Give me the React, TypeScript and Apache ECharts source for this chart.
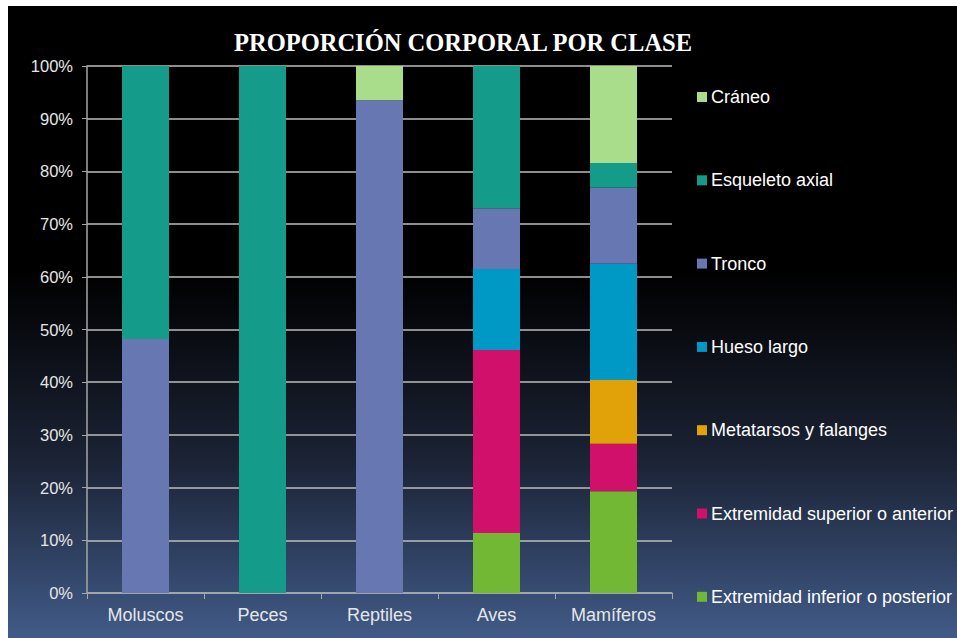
import React, { useEffect, useRef } from "react";
import * as echarts from "echarts";

const categories = ["Moluscos", "Peces", "Reptiles", "Aves", "Mamíferos"];
const extremidadInferior = [0, 0, 0, 11.4, 19.3];
const extremidadSuperior = [0, 0, 0, 34.7, 9.0];
const metatarsos = [0, 0, 0, 0, 12.1];
const huesoLargo = [0, 0, 0, 15.4, 22.1];
const tronco = [48.2, 0, 93.5, 11.5, 14.4];
const esqueletoAxial = [51.8, 100, 0, 27.0, 4.7];
const craneo = [0, 0, 6.5, 0, 18.4];

const seriesDefs = [
  { name: "Extremidad inferior o posterior", data: extremidadInferior, color: "#72b835" },
  { name: "Extremidad superior o anterior", data: extremidadSuperior, color: "#d1106b" },
  { name: "Metatarsos y falanges", data: metatarsos, color: "#e0a208" },
  { name: "Hueso largo", data: huesoLargo, color: "#0099c6" },
  { name: "Tronco", data: tronco, color: "#6677b1" },
  { name: "Esqueleto axial", data: esqueletoAxial, color: "#159b89" },
  { name: "Cráneo", data: craneo, color: "#a9dc8b" },
];

export default function App() {
  const ref = useRef<HTMLDivElement>(null);
  useEffect(() => {
    if (!ref.current) return;
    const chart = echarts.init(ref.current, null, { renderer: "svg" });
    chart.setOption({
      animation: false,
      backgroundColor: {
        type: "linear",
        x: 0,
        y: 0,
        x2: 0,
        y2: 1,
        colorStops: [
          { offset: 0, color: "#000000" },
          { offset: 0.42, color: "#000000" },
          { offset: 0.72, color: "#1b2335" },
          { offset: 1, color: "#415b88" },
        ],
      },
      title: {
        text: "PROPORCIÓN CORPORAL POR CLASE",
        left: 221,
        top: 19,
        textStyle: {
          color: "#ffffff",
          fontFamily: "Liberation Serif",
          fontWeight: "bold",
          fontSize: 24.5,
        },
      },
      legend: {
        orient: "vertical",
        left: 689,
        top: 81,
        padding: 0,
        itemWidth: 10,
        itemHeight: 10,
        itemGap: 63.3,
        icon: "rect",
        data: [...seriesDefs].reverse().map((s) => s.name),
        textStyle: {
          color: "#ffffff",
          fontFamily: "Liberation Sans",
          fontSize: 18,
          lineHeight: 20,
          padding: [0, 0, 0, -1],
        },
      },
      grid: { left: 79, top: 60, right: 285, bottom: 45, containLabel: false },
      xAxis: {
        type: "category",
        data: categories,
        axisLine: { lineStyle: { color: "#a6a6a6", width: 1.5 } },
        axisTick: { show: true, length: 6, lineStyle: { color: "#a6a6a6" } },
        axisLabel: {
          color: "#e6e6e6",
          fontFamily: "Liberation Sans",
          fontSize: 18,
          margin: 13,
        },
      },
      yAxis: {
        type: "value",
        min: 0,
        max: 100,
        interval: 10,
        axisLine: { show: true, lineStyle: { color: "#a6a6a6", width: 1.5 } },
        axisTick: { show: true, length: 5, lineStyle: { color: "#a6a6a6" } },
        splitLine: { lineStyle: { color: "#bdbdbd", width: 1.5 } },
        axisLabel: {
          color: "#e6e6e6",
          fontFamily: "Liberation Sans",
          fontSize: 16.5,
          margin: 14,
          formatter: "{value}%",
        },
      },
      series: seriesDefs.map((s) => ({
        name: s.name,
        type: "bar",
        stack: "total",
        barWidth: 47,
        data: s.data,
        itemStyle: { color: s.color },
      })),
    });
    return () => chart.dispose();
  }, []);
  return (
    <div
      ref={ref}
      style={{ position: "absolute", left: 8, top: 6, width: 949, height: 632 }}
    />
  );
}
